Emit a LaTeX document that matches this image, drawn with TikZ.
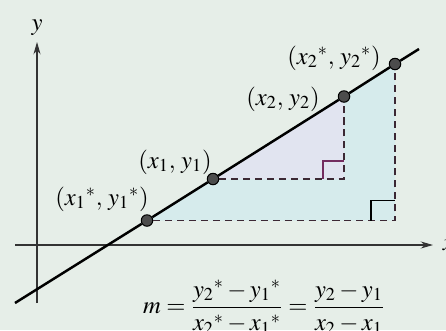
\documentclass[tikz,border=0pt]{standalone}
\usepackage{amsmath}
\usepackage{mathptmx}
\usepackage{xcolor}
\usetikzlibrary{arrows.meta}
\definecolor{paper}{RGB}{230,238,232}
\definecolor{bigtri}{RGB}{214,235,236}
\definecolor{smalltri}{RGB}{225,228,240}
\definecolor{markcol}{RGB}{115,45,95}
\definecolor{dashcol}{RGB}{60,40,52}

\begin{document}
\begin{tikzpicture}[>={Stealth[length=7pt,width=4pt]},font=\fontsize{14}{16}\selectfont,
  pt/.style={circle,draw=black,fill=black!70,line width=0.6pt,inner sep=0pt,minimum size=6.5pt},
  dashline/.style={dash pattern=on 4pt off 2.8pt,dashcol,line width=0.9pt},
  axis/.style={->,black!80,line width=0.6pt},
  rightmark/.style={line width=0.9pt}]
\fill[paper](-0.74,-1.7)rectangle(8.18,4.9);
\useasboundingbox(-0.74,-1.7)rectangle(8.18,4.9);
% points on the line
\coordinate(L0)at(-0.44,-1.16);
\coordinate(L1)at(7.64,3.92);
\coordinate(C1)at(6.14,1.32);
\coordinate(C2)at(7.16,0.49);
\fill[bigtri](2.2,0.49)--(C2)--(7.16,3.62)--cycle;
\fill[smalltri](3.52,1.32)--(C1)--(6.14,2.97)--cycle;
% axes
\coordinate(xs)at(-0.44,0);\coordinate(xe)at(7.92,0);
\coordinate(ys)at(0,-1.16);\coordinate(ye)at(0,4.06);
\draw[axis](xs)--(xe)node[right,xshift=2pt,black](xlab){$x$};
\draw[axis](ys)--(ye)node[above,black](ylab){$y$};
\node[pt](P1s)at(2.2,0.49){};
\node[pt](P1)at(3.52,1.32){};
\node[pt](P2)at(6.14,2.97){};
\node[pt](P2s)at(7.16,3.62){};
% dashed legs
\draw[dashline](P1s)--(C2)--(P2s);
\draw[dashline](P1)--(C1)--(P2);
\draw[rightmark,markcol](C1)++(-0.42,0)--++(0,0.36)--++(0.42,0);
\draw[rightmark](C2)++(-0.48,0)--++(0,0.4)--++(0.48,0);
\draw[line width=1.4pt](L0)--(P1s)--(P1)--(P2)--(P2s)--(L1);
\node(lab1s)at(1.3,0.92){$(x_1{}^*,\,y_1{}^*)$};
\node(lab1)at(2.76,1.66){$(x_1,\,y_1)$};
\node(lab2)at(4.92,2.92){$(x_2,\,y_2)$};
\node(lab2s)at(5.94,3.74){$(x_2{}^*,\,y_2{}^*)$};
\node(slope)at(4.54,-1.24){$m=\dfrac{y_2{}^*-y_1{}^*}{x_2{}^*-x_1{}^*}=\dfrac{y_2-y_1}{x_2-x_1}$};
\end{tikzpicture}
\end{document}
